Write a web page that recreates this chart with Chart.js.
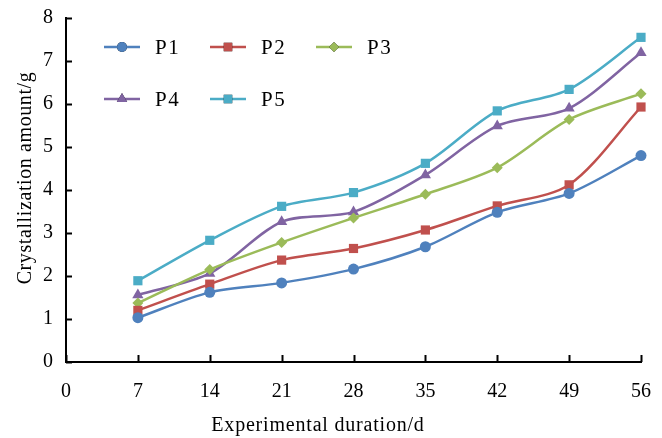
<!DOCTYPE html>
<html>
<head>
<meta charset="utf-8">
<script src="https://cdn.jsdelivr.net/npm/chart.js@4/dist/chart.umd.min.js"></script>
<style>
  html, body { margin: 0; padding: 0; background: #fff; }
  #wrap { width: 662px; height: 438px; }
</style>
</head>
<body>
<div id="wrap"><canvas id="myChart" width="662" height="438"></canvas></div>
<script>
const days = [7, 14, 21, 28, 35, 42, 49, 56];
const xTicks = [0, 7, 14, 21, 28, 35, 42, 49, 56];
const yTicks = [0, 1, 2, 3, 4, 5, 6, 7, 8];

const p1 = [1.03, 1.62, 1.84, 2.16, 2.68, 3.48, 3.92, 4.80];
const p2 = [1.20, 1.81, 2.37, 2.64, 3.07, 3.63, 4.12, 5.93];
const p3 = [1.37, 2.15, 2.78, 3.35, 3.90, 4.52, 5.64, 6.24];
const p4 = [1.56, 2.06, 3.26, 3.49, 4.35, 5.49, 5.90, 7.19];
const p5 = [1.89, 2.83, 3.62, 3.94, 4.62, 5.84, 6.34, 7.55];

const seriesNames = ["P1", "P2", "P3", "P4", "P5"];
const seriesColors = ["#4F81BD", "#C0504D", "#9BBB59", "#8064A2", "#4BACC6"];
const seriesMarkers = ["circle", "rect", "rectRot", "triangle", "rect"];
const markerSizes = [5.5, 6.5, 5.5, 6.5, 6.5];

const serif = "'Liberation Serif', 'Times New Roman', serif";

function toPoints(values) {
    return days.map((d, i) => ({ x: d, y: values[i] }));
}

const datasets = [p1, p2, p3, p4, p5].map((vals, i) => ({
    label: seriesNames[i],
    data: toPoints(vals),
    borderColor: seriesColors[i],
    backgroundColor: seriesColors[i],
    borderWidth: 2.5,
    pointStyle: seriesMarkers[i],
    pointRadius: markerSizes[i],
    pointBorderWidth: 0,
    tension: 0.3,
    fill: false,
    clip: false,
}));

// inner tick marks, axis titles and the two-row legend
const decorations = {
    id: "decorations",
    afterDraw(chart) {
        const ctx = chart.ctx;
        const xs = chart.scales.x;
        const ys = chart.scales.y;
        const area = chart.chartArea;
        ctx.save();
        ctx.strokeStyle = "#000";
        ctx.lineWidth = 2;
        xTicks.forEach(v => {
            const px = Math.round(xs.getPixelForValue(v)) + 0.5;
            ctx.beginPath();
            ctx.moveTo(px, area.bottom);
            ctx.lineTo(px, area.bottom - 7);
            ctx.stroke();
        });
        yTicks.forEach(v => {
            const py = Math.round(ys.getPixelForValue(v)) + 0.5;
            ctx.beginPath();
            ctx.moveTo(area.left, py);
            ctx.lineTo(area.left + 6, py);
            ctx.stroke();
        });

        // axis titles
        ctx.fillStyle = "#000";
        ctx.font = "20px " + serif;
        ctx.letterSpacing = "0.8px";
        ctx.textAlign = "center";
        ctx.textBaseline = "middle";
        ctx.fillText("Experimental duration/d", 318, 426);
        ctx.save();
        ctx.translate(26, 178);
        ctx.rotate(-Math.PI / 2);
        ctx.letterSpacing = "0.6px";
        ctx.fillText("Crystallization amount/g", 0, 0);
        ctx.restore();

        // legend
        const slots = [[104, 47], [210, 47], [316, 47], [104, 99], [210, 99]];
        ctx.textAlign = "left";
        ctx.letterSpacing = "1.5px";
        ctx.font = "21px " + serif;
        chart.data.datasets.forEach((ds, i) => {
            const [lx, ly] = slots[i];
            ctx.strokeStyle = ds.borderColor;
            ctx.lineWidth = 2.5;
            ctx.beginPath();
            ctx.moveTo(lx, ly);
            ctx.lineTo(lx + 36, ly);
            ctx.stroke();
            Chart.helpers.drawPoint(ctx, {
                pointStyle: ds.pointStyle,
                radius: ds.pointRadius - 0.5,
                borderWidth: 0,
                rotation: 0,
            }, lx + 18, ly);
            ctx.fillStyle = ds.borderColor;
            ctx.fill();
            ctx.fillStyle = "#000";
            ctx.fillText(ds.label, lx + 51, ly + 1);
        });
        ctx.restore();
    },
};

const config = {
    type: "line",
    data: { datasets: datasets },
    options: {
        responsive: false,
        animation: false,
        layout: { padding: { top: 18, right: 21, left: 0, bottom: 0 } },
        plugins: {
            legend: { display: false },
            tooltip: { enabled: false },
        },
        scales: {
            x: {
                type: "linear",
                min: 0,
                max: 56,
                afterFit(scale) { scale.height = 76; },
                afterBuildTicks(scale) { scale.ticks = xTicks.map(v => ({ value: v })); },
                grid: { display: false },
                border: { display: true, color: "#000", width: 2 },
                ticks: {
                    color: "#000",
                    font: { family: serif, size: 20 },
                    padding: 10,
                },
            },
            y: {
                min: 0,
                max: 8,
                afterFit(scale) { scale.width = 66; },
                afterBuildTicks(scale) { scale.ticks = yTicks.map(v => ({ value: v })); },
                grid: { display: false },
                border: { display: true, color: "#000", width: 2 },
                ticks: {
                    color: "#000",
                    font: { family: serif, size: 20 },
                    padding: 5,
                },
            },
        },
    },
    plugins: [decorations],
};

const chartElem = document.getElementById("myChart").getContext("2d");
const crystalChart = new Chart(chartElem, config);
</script>
</body>
</html>
